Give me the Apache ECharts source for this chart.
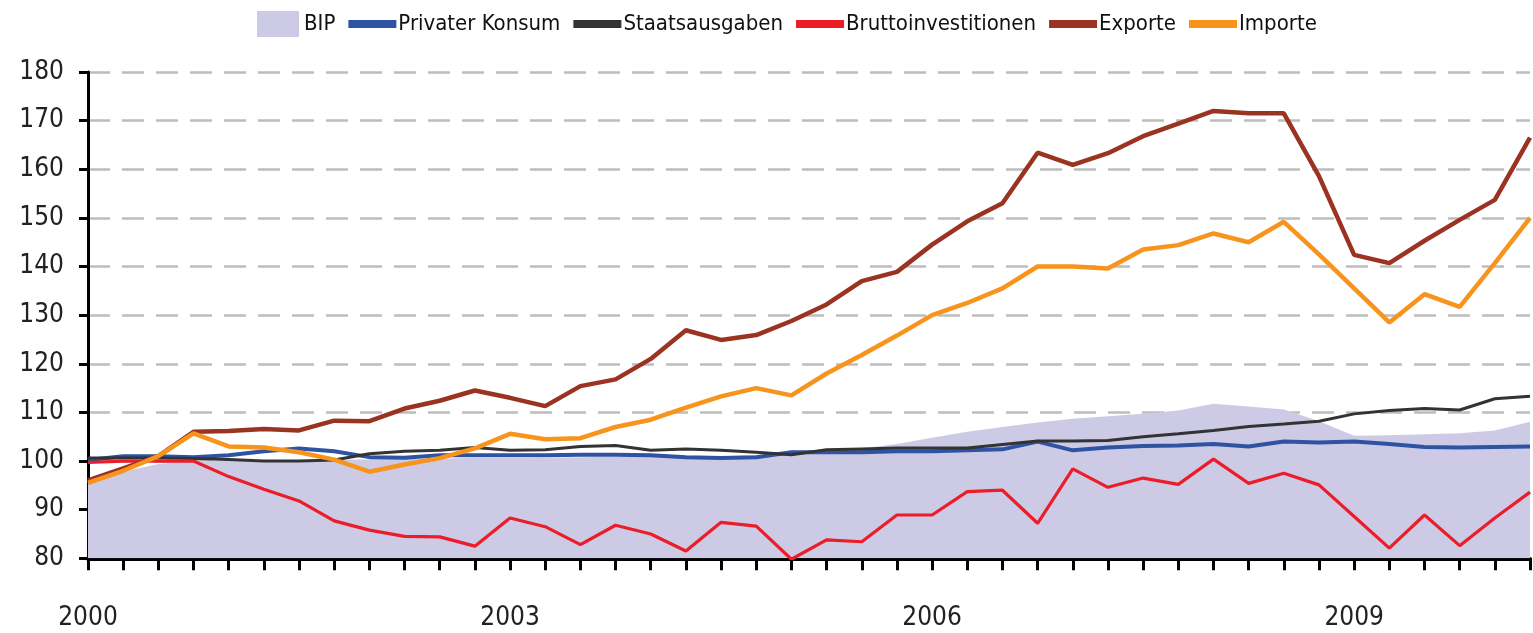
<!DOCTYPE html>
<html>
<head>
<meta charset="utf-8">
<script src="https://cdn.jsdelivr.net/npm/echarts@6/dist/echarts.min.js"></script>
<style>
html, body { margin: 0; padding: 0; background: #fff; }
#chart { width: 1533px; height: 633px; }
</style>
</head>
<body>
<div id="chart"></div>
<script>
// Quartale 2000 Q1 bis 2010 Q2
var quarters = [
    '2000', '2000 Q2', '2000 Q3', '2000 Q4',
    '2001 Q1', '2001 Q2', '2001 Q3', '2001 Q4',
    '2002 Q1', '2002 Q2', '2002 Q3', '2002 Q4',
    '2003', '2003 Q2', '2003 Q3', '2003 Q4',
    '2004 Q1', '2004 Q2', '2004 Q3', '2004 Q4',
    '2005 Q1', '2005 Q2', '2005 Q3', '2005 Q4',
    '2006', '2006 Q2', '2006 Q3', '2006 Q4',
    '2007 Q1', '2007 Q2', '2007 Q3', '2007 Q4',
    '2008 Q1', '2008 Q2', '2008 Q3', '2008 Q4',
    '2009', '2009 Q2', '2009 Q3', '2009 Q4',
    '2010 Q1', '2010 Q2'
];

var bip = [96.3, 97.8, 99.4, 100, 100, 100, 100.2, 100.3, 100.3, 100.4,
    100.5, 100.6, 100.6, 100.7, 100.8, 100.9, 101, 101, 101, 101.2,
    101.4, 101.8, 102.6, 103.5, 104.8, 106, 107, 107.9, 108.7, 109.2,
    109.7, 110.4, 111.8, 111.2, 110.6, 108.2, 105.2, 105.3, 105.5, 105.7,
    106.3, 108.1];

var privaterKonsum = [100.2, 101, 101, 100.8, 101.2, 102, 102.6, 102, 100.8, 100.7,
    101.2, 101.2, 101.2, 101.2, 101.3, 101.3, 101.2, 100.8, 100.6, 100.8,
    101.8, 101.8, 101.8, 102, 102, 102.2, 102.4, 104, 102.2, 102.8,
    103.1, 103.2, 103.5, 103, 104, 103.8, 104, 103.5, 102.9, 102.8,
    102.9, 103];

var staatsausgaben = [100.6, 100.6, 100.6, 100.5, 100.3, 100, 100, 100.2, 101.5, 102,
    102.2, 102.8, 102.2, 102.3, 103, 103.2, 102.2, 102.5, 102.2, 101.8,
    101.3, 102.3, 102.5, 102.7, 102.7, 102.7, 103.4, 104.1, 104.1, 104.2,
    105, 105.6, 106.3, 107.1, 107.6, 108.2, 109.7, 110.4, 110.8, 110.5,
    112.8, 113.3];

var bruttoinvestitionen = [99.7, 100, 100, 100, 96.8, 94.2, 91.8, 87.7, 85.8, 84.5,
    84.4, 82.5, 88.3, 86.5, 82.8, 86.8, 85, 81.5, 87.4, 86.6,
    79.8, 83.8, 83.4, 88.9, 88.9, 93.7, 94, 87.2, 98.4, 94.6,
    96.5, 95.2, 100.4, 95.4, 97.5, 95.1, 88.6, 82.1, 88.9, 82.6,
    88.3, 93.6];

var exporte = [96, 98.5, 101, 106, 106.2, 106.6, 106.3, 108.3, 108.2, 110.8,
    112.4, 114.5, 113, 111.3, 115.4, 116.8, 121, 126.9, 124.9, 125.9,
    128.8, 132.2, 137, 138.9, 144.5, 149.3, 153, 163.4, 160.9, 163.3,
    166.8, 169.4, 172, 171.5, 171.5, 158.6, 142.4, 140.7, 145.3, 149.6,
    153.7, 166.5];

var importe = [95.5, 98, 101, 105.7, 103, 102.8, 101.8, 100.3, 97.8, 99.3,
    100.6, 102.6, 105.6, 104.5, 104.7, 107, 108.5, 111, 113.3, 115,
    113.5, 118, 121.8, 125.8, 130, 132.5, 135.5, 140, 140, 139.6,
    143.5, 144.4, 146.8, 145, 149.2, 142.5, 135.5, 128.5, 134.3, 131.7,
    140.7, 150];

var yearLabels = ['2000', '2003', '2006', '2009'];

var fontFamily = "'Liberation Sans Narrow', 'DejaVu Sans Condensed', 'Liberation Sans', sans-serif";
var lineIcon = 'path://M0,0H48V8H0Z';

function lineSeries(name, data, color, width) {
    return {
        name: name,
        type: 'line',
        data: data,
        symbol: 'none',
        lineStyle: { color: color, width: width },
        itemStyle: { color: color },
        emphasis: { disabled: true }
    };
}

var chart = echarts.init(document.getElementById('chart'));
chart.setOption({
    animation: false,
    backgroundColor: '#fff',
    textStyle: { fontFamily: fontFamily },
    legend: {
        top: 6,
        left: 252,
        itemWidth: 48,
        itemHeight: 26,
        itemGap: 13,
        textStyle: { fontFamily: fontFamily, fontSize: 22, color: '#111', padding: [0, 0, 0, -3] },
        data: [
            { name: 'BIP', icon: 'path://M0,0H42V26H0Z' },
            { name: 'Privater Konsum', icon: lineIcon },
            { name: 'Staatsausgaben', icon: lineIcon },
            { name: 'Bruttoinvestitionen', icon: lineIcon },
            { name: 'Exporte', icon: lineIcon },
            { name: 'Importe', icon: lineIcon }
        ]
    },
    grid: {
        left: 88,
        right: -8.7,
        top: 72,
        bottom: 74.7,
        containLabel: false
    },
    xAxis: {
        type: 'category',
        data: quarters,
        boundaryGap: false,
        axisLine: { lineStyle: { color: '#000', width: 4 } },
        axisTick: { interval: 0, length: 12, lineStyle: { color: '#000', width: 3 } },
        axisLabel: {
            interval: 0,
            margin: 47,
            fontSize: 26,
            color: '#222',
            fontFamily: fontFamily,
            formatter: function (v) {
                return yearLabels.indexOf(v) >= 0 ? v : '';
            }
        },
        splitLine: { show: false }
    },
    yAxis: {
        type: 'value',
        min: 80,
        max: 180,
        interval: 10,
        axisLine: { show: true, lineStyle: { color: '#000', width: 3 } },
        axisTick: { show: true, length: 9, lineStyle: { color: '#000', width: 3 } },
        axisLabel: { margin: 24, fontSize: 26, color: '#222', fontFamily: fontFamily },
        splitLine: { lineStyle: { color: '#bdbdbd', width: 2.5, type: [22, 12] } }
    },
    series: [
        {
            name: 'BIP',
            type: 'line',
            data: bip,
            symbol: 'none',
            lineStyle: { width: 0, color: '#cdcae6' },
            itemStyle: { color: '#cdcae6' },
            areaStyle: { color: '#cdcae6', opacity: 1, origin: 'start' },
            emphasis: { disabled: true }
        },
        lineSeries('Privater Konsum', privaterKonsum, '#2e53a3', 4),
        lineSeries('Staatsausgaben', staatsausgaben, '#333333', 3),
        lineSeries('Bruttoinvestitionen', bruttoinvestitionen, '#ec1c28', 3.2),
        lineSeries('Exporte', exporte, '#9a3322', 4.5),
        lineSeries('Importe', importe, '#f7941d', 4.5)
    ]
});
</script>
</body>
</html>
